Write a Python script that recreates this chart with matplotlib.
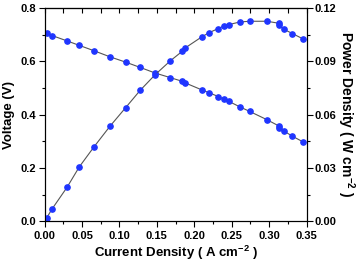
import matplotlib
matplotlib.use('Agg')
import matplotlib.pyplot as plt
from matplotlib.ticker import MultipleLocator

plt.rcParams['font.family'] = ['Liberation Sans', 'DejaVu Sans']
plt.rcParams['font.weight'] = 'bold'
plt.rcParams['mathtext.fontset'] = 'custom'
plt.rcParams['mathtext.rm'] = 'Liberation Sans:bold'
plt.rcParams['mathtext.bf'] = 'Liberation Sans:bold'

# current density (A cm-2)
current = [0.003, 0.010, 0.030, 0.0465, 0.066, 0.0875, 0.1085, 0.128, 0.148, 0.168,
           0.184, 0.188, 0.210, 0.220, 0.232, 0.240, 0.246, 0.261, 0.274, 0.297,
           0.3126, 0.3126, 0.320, 0.331, 0.345]
# voltage (V)
voltage = [0.705, 0.697, 0.677, 0.660, 0.640, 0.617, 0.597, 0.577, 0.556, 0.539,
           0.525, 0.519, 0.493, 0.482, 0.468, 0.457, 0.450, 0.429, 0.412, 0.381,
           0.358, 0.350, 0.338, 0.319, 0.298]
# power density (W cm-2)
power = [0.0019, 0.0068, 0.0190, 0.0306, 0.0418, 0.0535, 0.0640, 0.0738, 0.0826, 0.0903,
         0.0957, 0.0976, 0.1038, 0.1062, 0.1085, 0.1100, 0.1107, 0.1122, 0.1126, 0.1126,
         0.1115, 0.1103, 0.1080, 0.1057, 0.1027]

fig = plt.figure(figsize=(3.59, 2.62), dpi=100)
ax = fig.add_axes([0.124, 0.156, 0.73, 0.813])
ax2 = ax.twinx()

line_kw = dict(color='#555555', lw=0.8, marker='o', ms=3.8,
               mfc='#1f35ff', mec='#1f35ff')
ax.plot(current, voltage, **line_kw)
ax2.plot(current, power, **line_kw)

ax.set_xlim(0, 0.35)
ax.set_ylim(0, 0.8)
ax2.set_ylim(0, 0.12)

ax.xaxis.set_major_locator(MultipleLocator(0.05))
ax.xaxis.set_minor_locator(MultipleLocator(0.025))
ax.yaxis.set_major_locator(MultipleLocator(0.2))
ax.yaxis.set_minor_locator(MultipleLocator(0.1))
ax2.yaxis.set_major_locator(MultipleLocator(0.03))
ax2.yaxis.set_minor_locator(MultipleLocator(0.015))

ax.xaxis.set_major_formatter(plt.FormatStrFormatter('%.2f'))
ax.yaxis.set_major_formatter(plt.FormatStrFormatter('%.1f'))
ax2.yaxis.set_major_formatter(plt.FormatStrFormatter('%.2f'))

# top axis: inward ticks, no labels
top = ax.secondary_xaxis('top')
top.xaxis.set_major_locator(MultipleLocator(0.025))
top.tick_params(direction='in', length=3.5, width=0.8, labeltop=False)
top.spines['top'].set_linewidth(0.8)

ax.tick_params(axis='x', which='both', direction='out', top=False, labelsize=8, pad=3)
ax.tick_params(axis='x', which='major', length=4, width=0.8)
ax.tick_params(axis='x', which='minor', length=2.5, width=0.8)
ax.tick_params(axis='y', which='both', direction='out', labelsize=8, pad=2)
ax.tick_params(axis='y', which='major', length=4, width=0.8)
ax.tick_params(axis='y', which='minor', length=2.5, width=0.8)
ax2.tick_params(axis='y', which='both', direction='out', labelsize=8, pad=2)
ax2.tick_params(axis='y', which='major', length=4, width=0.8)
ax2.tick_params(axis='y', which='minor', length=2.5, width=0.8)

for sp in list(ax.spines.values()) + list(ax2.spines.values()):
    sp.set_linewidth(0.8)

ax.set_xlabel('Current Density ( A cm$^{-2}$ )', fontsize=9.5, fontweight='bold', labelpad=2)
ax.set_ylabel('Voltage (V)', fontsize=9.5, fontweight='bold', labelpad=4)
ax2.set_ylabel('Power Density ( W cm$^{-2}$ )', fontsize=10, fontweight='bold',
               rotation=270, labelpad=14)

fig.savefig('out.png', dpi=100)
